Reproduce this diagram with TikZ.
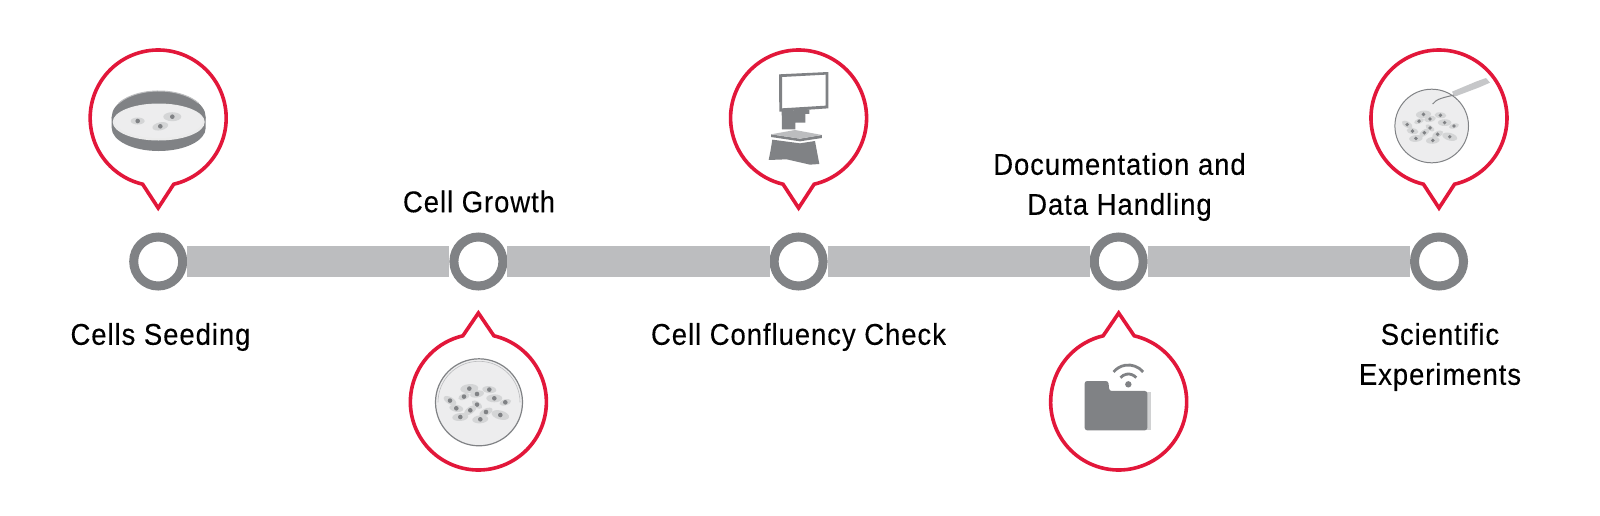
\documentclass[tikz,border=0pt]{standalone}
\usepackage{fontspec}
\setmainfont[FakeStretch=0.915,LetterSpace=3.2,FakeBold=0.25]{Liberation Sans}
\definecolor{ringgray}{HTML}{808285}
\definecolor{bargray}{HTML}{BCBDBF}
\definecolor{bubblered}{HTML}{E2173A}
\definecolor{dishlight}{HTML}{EDEDEE}
\definecolor{cellbody}{HTML}{D4D5D6}
\tikzset{
  x=1pt,y=-1pt,
  ringnode/.style={circle,draw=ringgray,line width=9pt,fill=white,minimum size=49pt,inner sep=0pt},
  barline/.style={draw=bargray,line width=31pt},
  labeltext/.style={font=\fontsize{30}{40}\selectfont,align=center,text=black,inner sep=0pt},
  bubbleline/.style={draw=bubblered,line width=3.6pt,miter limit=10,fill=white},
  bubbleup/.pic={\path[bubbleline] (0pt,-90pt) -- (15.5pt,-66.2pt) arc[start angle=-76.8,end angle=256.8,radius=68pt] -- cycle;},
  bubbledown/.pic={\path[bubbleline] (0pt,89pt) -- (15.5pt,66.2pt) arc[start angle=76.8,end angle=-256.8,radius=68pt] -- cycle;},
}
\newcommand{\onecell}[4]{%
  \fill[cellbody,rotate around={#3:(#1,#2)}] (#1,#2) ellipse[x radius=#4*1pt,y radius=#4*0.5pt];
  \fill[ringgray] (#1,#2) circle[radius=2.3pt];}
\newcommand{\culturecells}{%
  \onecell{-9.7}{-13.7}{5}{9}\onecell{10.3}{-12.7}{-5}{7}\onecell{-15}{-5.7}{20}{6}\onecell{-2}{-8.3}{10}{7}%
  \onecell{15.3}{-4}{0}{8}\onecell{26.3}{0}{15}{6}\onecell{-29}{-1.7}{-30}{7}\onecell{-2}{2.3}{-35}{6}%
  \onecell{-22.7}{6}{-10}{7}\onecell{-8.7}{8}{35}{7}\onecell{7}{9.7}{25}{7}\onecell{-18.7}{14.7}{5}{8}%
  \onecell{1.3}{17}{5}{8}\onecell{21.3}{12.7}{-15}{9}}
\begin{document}
\begin{tikzpicture}
\useasboundingbox (0,0) rectangle (1600,515);
\fill[white] (0,0) rectangle (1600,515);

% track
\node[ringnode] (n1) at (158.2,261.5) {};
\node[ringnode] (n2) at (478.4,261.5) {};
\node[ringnode] (n3) at (798.6,261.5) {};
\node[ringnode] (n4) at (1118.7,261.5) {};
\node[ringnode] (n5) at (1439,261.5) {};
\path[barline] (n1) -- (n2);
\path[barline] (n2) -- (n3);
\path[barline] (n3) -- (n4);
\path[barline] (n4) -- (n5);

% labels
\node[labeltext] (l1) at (160.5,337) {Cells Seeding};
\node[labeltext] (l2) at (479,201.5) {Cell Growth};
\node[labeltext] (l3) at (798.5,337) {Cell Confluency Check};
\node[labeltext] (l4) at (1119.5,187) {Documentation and\\Data Handling};
\node[labeltext] (l5) at (1440,357) {Scientific\\Experiments};

% bubbles
\pic at (158.2,118) {bubbleup};
\pic at (798.6,118) {bubbleup};
\pic at (1439,118) {bubbleup};
\pic at (478.4,402) {bubbledown};
\pic at (1118.7,402) {bubbledown};

% open dish with cells
\begin{scope}[shift={(158.7,0)}]
  \fill[ringgray] (-47,117) -- (-47,128) arc[start angle=180,end angle=360,x radius=47pt,y radius=23pt] -- (47,117) -- cycle;
  \fill[ringgray] (0,117) ellipse[x radius=47pt,y radius=26pt];
  \fill[white!92!black] (0,122) ellipse[x radius=46pt,y radius=18.5pt];
  \fill[dishlight] (0,121) ellipse[x radius=44pt,y radius=17pt];
  \draw[bargray,line width=1pt] (-39.9,103.2) arc[start angle=148,end angle=32,x radius=47pt,y radius=26pt];
  \onecell{-21}{121}{0}{7}\onecell{13.6}{116.7}{0}{9}\onecell{1.6}{126.3}{12}{8}
\end{scope}

% growth dish
\begin{scope}[shift={(479,402.3)}]
  \fill[dishlight] (0,0) circle[radius=43.5pt];
  \draw[ringgray,line width=1.2pt] (0,0) circle[radius=43.5pt];
  \draw[bargray,line width=0.6pt] (-41,0) arc[start angle=180,end angle=0,radius=41pt];
  \culturecells
\end{scope}

% microscope
\begin{scope}[shift={(700,40)},x=0.3333pt,y=-0.3333pt]
  \fill[ringgray,even odd rule] (237,103) -- (385,96) -- (385,205) -- (238,215) -- cycle
     (246,111) -- (377,104) -- (377,197) -- (246,205) -- cycle;
  \fill[ringgray] (245,213) -- (328,208) -- (328,222) -- (316,222) -- (316,248) -- (286,248) -- (286,268) -- (246,268) -- cycle;
  \fill[ringgray] (213,283) -- (213,291) -- (300,304) -- (366,294) -- (366,285) -- (300,296) -- cycle;
  \fill[bargray] (213,283) -- (285,270) -- (366,285) -- (300,296) -- cycle;
  \fill[ringgray] (217,299) -- (300,310) -- (345,303) -- (350,330) -- (358,372) -- (330,374) -- (260,358) -- (206,360) -- (212,330) -- cycle;
\end{scope}

% folder with wifi
\begin{scope}[shift={(1020,295)},x=0.3333pt,y=-0.3333pt]
  \fill[bargray!70!white] (370,290) -- (392,290) -- (392,404) -- (370,404) -- cycle;
  \fill[ringgray,rounded corners=2.5pt] (194,258) -- (265,258) -- (268,288) -- (382,288) -- (382,406) -- (194,406) -- cycle;
  \fill[ringgray] (325,268) circle[radius=3.2pt];
  \draw[ringgray,line width=2.8pt] (325,268) ++(-40:31) arc[start angle=40,end angle=140,radius=10.3pt];
  \draw[ringgray,line width=2.8pt] (325,268) ++(-40:58) arc[start angle=40,end angle=140,radius=19.3pt];
\end{scope}

% experiment dish with pipette
\begin{scope}[shift={(1431.7,126)},scale=0.846]
  \fill[dishlight] (0,0) circle[radius=43.5pt];
  \draw[ringgray,line width=1pt] (0,0) circle[radius=43.5pt];
  \culturecells
\end{scope}
\begin{scope}[shift={(1330,40)},x=0.3333pt,y=-0.3333pt]
  \fill[bargray!85!white] (366,155) -- (440,124) -- (468,114) -- (480,128) -- (448,142) -- (374,170) -- cycle;
  \draw[ringgray,line width=1pt] (372,165) .. controls (345,172) and (318,176) .. (308,192);
\end{scope}
\end{tikzpicture}
\end{document}
